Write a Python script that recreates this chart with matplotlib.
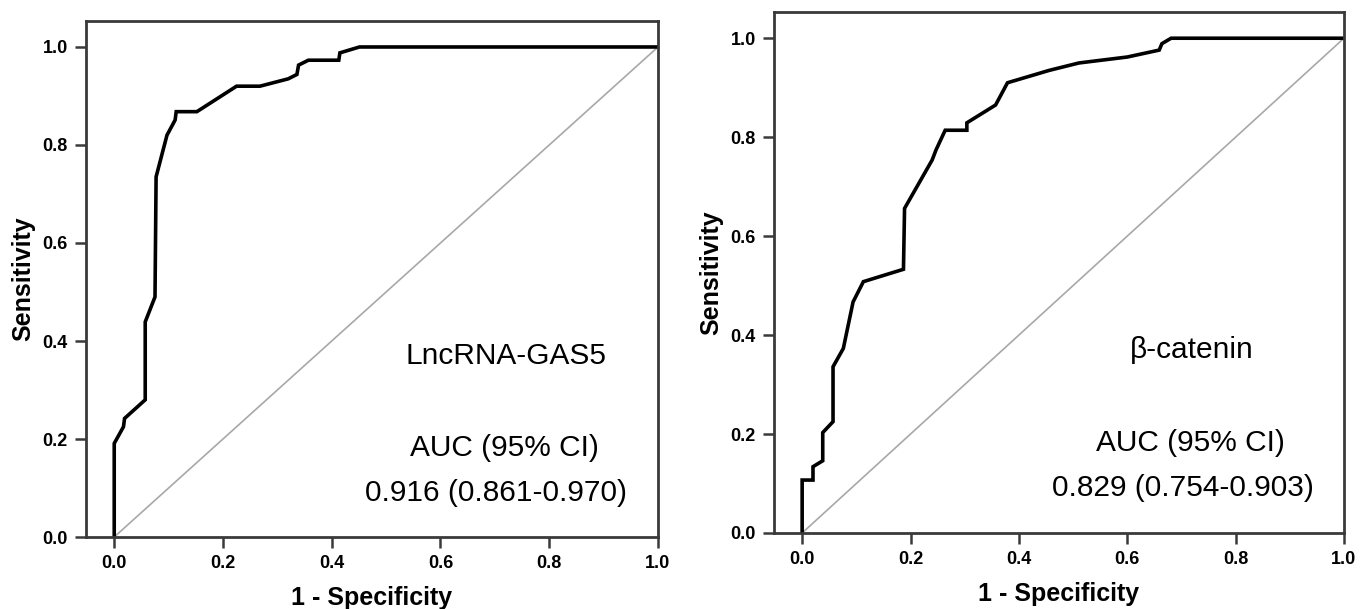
import matplotlib
matplotlib.use("Agg")
import matplotlib.pyplot as plt

# ROC curves
lnc_fpr = [0, 0, 0.017, 0.019, 0.057, 0.057, 0.075, 0.077, 0.097, 0.112, 0.114, 0.152,
           0.225, 0.268, 0.320, 0.336, 0.339, 0.357, 0.413, 0.415, 0.451, 1.0]
lnc_tpr = [0, 0.191, 0.225, 0.242, 0.280, 0.439, 0.490, 0.735, 0.820, 0.851, 0.868, 0.868,
           0.920, 0.920, 0.935, 0.944, 0.963, 0.973, 0.973, 0.988, 1.0, 1.0]

cat_fpr = [0, 0, 0.020, 0.020, 0.038, 0.038, 0.057, 0.057, 0.076, 0.094, 0.113, 0.187,
           0.189, 0.240, 0.247, 0.264, 0.304, 0.304, 0.357, 0.379, 0.456, 0.511, 0.600,
           0.659, 0.664, 0.681, 1.0]
cat_tpr = [0, 0.107, 0.107, 0.134, 0.146, 0.203, 0.225, 0.336, 0.373, 0.467, 0.508, 0.533,
           0.656, 0.754, 0.774, 0.814, 0.814, 0.829, 0.865, 0.910, 0.935, 0.950, 0.962,
           0.976, 0.989, 1.0, 1.0]

names = ["LncRNA-GAS5", "\u03b2-catenin"]
auc_text = ["0.916 (0.861-0.970)", "0.829 (0.754-0.903)"]
ticks = [0.0, 0.2, 0.4, 0.6, 0.8, 1.0]
tick_labels = ["0.0", "0.2", "0.4", "0.6", "0.8", "1.0"]

fonts = ["Liberation Sans", "DejaVu Sans"]
spine_col = "#3a3a3a"

fig = plt.figure(figsize=(13.6, 6.09), dpi=100)
ax1 = fig.add_axes([0.0632, 0.1182, 0.4206, 0.8473])
ax2 = fig.add_axes([0.5691, 0.1248, 0.4191, 0.8555])

panels = [(ax1, lnc_fpr, lnc_tpr), (ax2, cat_fpr, cat_tpr)]
for i, (ax, fpr, tpr) in enumerate(panels):
    ax.plot([0, 1], [0, 1], color="#a8a8a8", lw=1.2)
    ax.plot(fpr, tpr, color="black", lw=2.6, solid_joinstyle="miter")
    ax.set_xlim(-0.052, 1.0)
    ax.set_ylim(0, 1.053)
    for s in ax.spines.values():
        s.set_color(spine_col)
        s.set_linewidth(2.0)
    ax.set_xticks(ticks)
    ax.set_yticks(ticks)
    ax.set_xticklabels(tick_labels, family=fonts, fontweight="bold", fontsize=13)
    ax.set_yticklabels(tick_labels, family=fonts, fontweight="bold", fontsize=13)
    ax.tick_params(direction="out", length=8, width=1.8, color=spine_col, pad=5)
    ax.set_xlabel("1 - Specificity", family=fonts, fontweight="bold", fontsize=18, labelpad=10)
    ax.set_ylabel("Sensitivity", family=fonts, fontweight="bold", fontsize=18, labelpad=5)
    ax.text(0.72, 0.37, names[i], ha="center", va="center", family=fonts, fontsize=21.5)
    ax.text(0.717, 0.182, "AUC (95% CI)", ha="center", va="center", family=fonts, fontsize=21.5)
    ax.text(0.702, 0.09, auc_text[i], ha="center", va="center", family=fonts, fontsize=21.5)

fig.savefig("out.png", dpi=100)
